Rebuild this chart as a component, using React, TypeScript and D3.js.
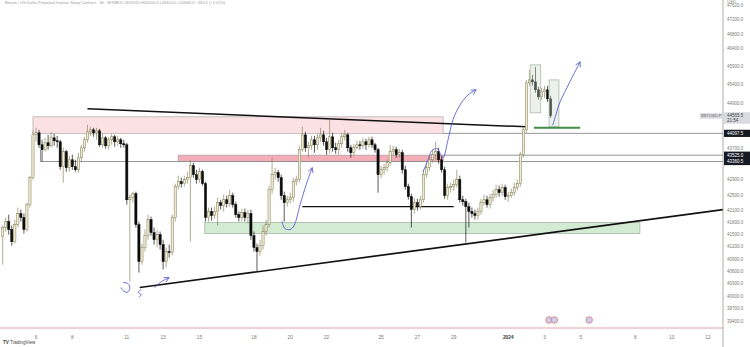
import React from 'react';
import * as d3 from 'd3';

const W = 750;
const H = 347;
const AXIS_X = 723;
const BOTTOM = 328;

// ---- data: 4h candles starting 2023-12-04 04:00 UTC ----
const firstOpen = 41453;
const closes = [
  41680, 41829, 41630, 41328, 41754, 42030, 41929, 41630, 42255, 42942,
  44059, 44112, 43797, 43667, 43850, 43771, 43980, 43902, 43876, 43225,
  43615, 43199, 43406, 43225, 43147, 43458, 43719, 43928, 44138, 44191,
  44112, 44165, 43797, 43980, 43771, 43928, 44007, 43876, 43928, 43824,
  43797, 42379, 42430, 42533, 41754, 40838, 41183, 41478, 41878, 41554,
  41377, 41504, 41256, 40838, 41084, 41060, 41929, 42713, 42840, 42789,
  42891, 42942, 43251, 43019, 42891, 43096, 42789, 41929, 42080, 41979,
  42080, 42305, 42230, 42379, 42280, 42482, 42255, 42004, 41929, 42055,
  41929, 42030, 41478, 41183, 41084, 41231, 41580, 41754, 42636, 43019,
  43070, 42942, 42482, 42305, 42379, 42430, 42840, 42891, 43667, 44059,
  43719, 43771, 43928, 43797, 43980, 44059, 43876, 43667, 44007, 43719,
  43667, 43824, 44007, 44059, 43719, 43589, 43719, 43797, 43771, 43876,
  43797, 43928, 43797, 43667, 43019, 43147, 43199, 43328, 43615, 43667,
  43537, 43589, 43147, 42713, 42456, 42131, 42305, 42205, 42379, 43019,
  43199, 43406, 43537, 43615, 43406, 43147, 42482, 42687, 42713, 42764,
  42891, 42379, 42329, 42205, 42080, 42030, 41979, 42080, 42305, 42379,
  42255, 42430, 42508, 42636, 42559, 42687, 42456, 42482, 42559, 42687,
  42789, 43537, 44191, 45451, 45532, 45478, 45262, 45073, 45208, 45262,
  45019, 44565.5,
];
const highs = [
  41729, 41929, 42004, 41729, 41878, 42181, 42131, 42030, 42305, 42994,
  44165, 44244, 44191, 43928, 43980, 44059, 44138, 44086, 44033, 43928,
  43719, 43667, 43510, 43537, 43406, 43589, 43797, 44007, 44324, 44270,
  44244, 44244, 44217, 44086, 44033, 44007, 44086, 44059, 44033, 43980,
  43928, 43850, 42508, 42585, 42585, 41829, 41280, 41630, 42004, 41954,
  41680, 41630, 41580, 41377, 41183, 41256, 42004, 42789, 42994, 42942,
  42994, 43096, 43406, 43328, 43147, 43199, 43147, 42840, 42181, 42181,
  42205, 42430, 42379, 42508, 42482, 42636, 42559, 42329, 42080, 42156,
  42156, 42131, 42131, 41580, 41280, 41377, 41729, 41878, 42738, 43458,
  43199, 43147, 43019, 42585, 42482, 42559, 42942, 42994, 43771, 44270,
  44138, 43876, 44033, 44033, 44086, 44244, 44165, 43980, 44457, 44112,
  43850, 43928, 44112, 44191, 44112, 43797, 43824, 43902, 43902, 43980,
  43954, 44007, 44007, 43850, 43719, 43251, 43302, 43406, 43797, 43771,
  43745, 43693, 43667, 43251, 42789, 42533, 42430, 42405, 42482, 43147,
  43328, 43510, 43667, 43876, 43719, 43510, 43225, 42789, 42815, 42891,
  43147, 42994, 42482, 42405, 42305, 42181, 42131, 42181, 42405, 42508,
  42482, 42533, 42636, 42764, 42738, 42789, 42764, 42585, 42662, 42815,
  42891, 43615, 44270, 45532, 45806, 45669, 45888, 45343, 45316, 45370,
  45370, 45100,
];
const lows = [
  40765, 41580, 41504, 41231, 41280, 41680, 41829, 41529, 41580, 42181,
  42891, 43876, 43719, 43354, 43615, 43667, 43719, 43771, 43719, 43147,
  42815, 43096, 43096, 43147, 43096, 43070, 43354, 43615, 43850, 44033,
  44007, 43928, 43745, 43719, 43693, 43667, 43797, 43745, 43771, 43719,
  43719, 42255, 40353, 42305, 41680, 40571, 40765, 41084, 41377, 41478,
  41256, 41183, 41134, 40644, 40693, 40936, 40985, 41829, 42636, 42687,
  42713, 42789, 41328, 42942, 42789, 42815, 42738, 41829, 41829, 41853,
  41903, 41729, 42131, 42080, 42181, 42205, 42181, 41929, 41829, 41829,
  41829, 41779, 41377, 41084, 40595, 40985, 41134, 41478, 41680, 42533,
  42891, 42840, 42379, 41829, 42205, 42280, 42329, 42738, 42815, 43615,
  43615, 43458, 43667, 43589, 43667, 43876, 43771, 43537, 43563, 43615,
  43563, 43537, 43719, 43902, 43615, 43458, 43510, 43667, 43667, 43693,
  43667, 43719, 43719, 43589, 42559, 42942, 43019, 43096, 43251, 43510,
  43458, 43458, 43045, 42636, 42379, 41680, 42030, 42106, 42131, 42305,
  42942, 43121, 43328, 43406, 43302, 43070, 42405, 42379, 42559, 42610,
  42687, 42305, 42230, 41304, 41680, 41929, 41878, 41878, 42004, 42230,
  42181, 42156, 42329, 42430, 42456, 42482, 42379, 42329, 42430, 42482,
  42610, 42713, 43458, 44112, 45370, 45370, 45181, 44992, 44992, 45046,
  44938, 44510,
];

const priceTicks = [
  47620, 47200, 46800, 46400, 45900, 45400, 44900, 43700, 42900, 42500,
  42100, 41800, 41500, 41200, 40900, 40600, 40300, 40000, 39700, 39400,
];
const dateTicks = [
  Date.UTC(2023, 11, 6), Date.UTC(2023, 11, 8), Date.UTC(2023, 11, 11), Date.UTC(2023, 11, 13),
  Date.UTC(2023, 11, 15), Date.UTC(2023, 11, 18), Date.UTC(2023, 11, 20), Date.UTC(2023, 11, 22),
  Date.UTC(2023, 11, 25), Date.UTC(2023, 11, 27), Date.UTC(2023, 11, 29), Date.UTC(2024, 0, 1),
  Date.UTC(2024, 0, 3), Date.UTC(2024, 0, 5), Date.UTC(2024, 0, 8), Date.UTC(2024, 0, 10),
  Date.UTC(2024, 0, 12),
];
const dateLabels = ['6', '8', '11', '13', '15', '18', '20', '22', '25', '27', '29', '2024', '3', '5', '8', '10', '12'];

const lastPrice = 44565.5;
const lastTime = '21:54';
const symbol = 'XBTUSD.P';
const levelLabels = [44097.5, 43525.0, 43360.5];

const u = (y: number, m: number, d: number, h = 0, mi = 0) => Date.UTC(y, m, d, h, mi);

// drawings (time, price)
const upperTrend = [{ t: u(2023, 11, 8, 20), p: 44750 }, { t: u(2024, 0, 2, 1), p: 44270 }];
const lowerTrend = [{ t: u(2023, 11, 11, 17), p: 40210 }, { t: u(2024, 0, 12, 20), p: 42131 }];
const pinkZone1 = { t0: u(2023, 11, 5, 20), t1: u(2023, 11, 28, 10), p0: 44097.5, p1: 44537 };
const pinkZone2 = { t0: u(2023, 11, 13, 20), t1: u(2023, 11, 28, 10), p0: 43360.5, p1: 43525 };
const greenZone = { t0: u(2023, 11, 15, 7), t1: u(2024, 0, 8, 6), p0: 41529, p1: 41804 };
const levelLines = [
  { t0: u(2023, 11, 28, 10), p: 44097.5 },
  { t0: u(2023, 11, 28, 10), p: 43525 },
  { t0: u(2023, 11, 6, 6), p: 43360.5 },
];
const leftTick = { t: u(2023, 11, 6, 6), p0: 43360.5, p1: 43667 };
const blackLevel = { t0: u(2023, 11, 20, 16), t1: u(2023, 11, 29, 0), p: 42205 };
const grayBoxes = [
  { t0: u(2024, 0, 2, 5), t1: u(2024, 0, 2, 19), p0: 44644, p1: 45943 },
  { t0: u(2024, 0, 3, 6), t1: u(2024, 0, 3, 19), p0: 44270, p1: 45532 },
];
const greenLine = { t0: u(2024, 0, 2, 10), t1: u(2024, 0, 4, 23), p: 44244 };

const arrow1 = [
  { t: u(2024, 0, 3, 11), p: 44324 }, { t: u(2024, 0, 3, 15), p: 44590 },
  { t: u(2024, 0, 3, 20), p: 44911 }, { t: u(2024, 0, 4, 9, 30), p: 45478 },
  { t: u(2024, 0, 4, 23), p: 46025 },
];
const arrow2 = [
  { t: u(2023, 11, 27, 7, 30), p: 43096 }, { t: u(2023, 11, 27, 14), p: 43406 },
  { t: u(2023, 11, 27, 19), p: 43641 }, { t: u(2023, 11, 28, 2), p: 43693 },
  { t: u(2023, 11, 28, 7), p: 43537 }, { t: u(2023, 11, 28, 10), p: 43458 },
  { t: u(2023, 11, 28, 16, 30), p: 43928 }, { t: u(2023, 11, 28, 23), p: 44457 },
  { t: u(2023, 11, 29, 8, 30), p: 44858 }, { t: u(2023, 11, 29, 19), p: 45127 },
  { t: u(2023, 11, 30, 5, 30), p: 45262 },
];
const arrow3 = [
  { t: u(2023, 11, 19, 13), p: 41829 }, { t: u(2023, 11, 19, 17), p: 41655 },
  { t: u(2023, 11, 19, 23, 45), p: 41630 }, { t: u(2023, 11, 20, 5), p: 41729 },
  { t: u(2023, 11, 20, 13), p: 42255 }, { t: u(2023, 11, 20, 21), p: 42764 },
  { t: u(2023, 11, 21, 5), p: 43199 },
];
const squiggleA = [
  { t: u(2023, 11, 10, 19), p: 40330 }, { t: u(2023, 11, 11, 1, 30), p: 40306 },
  { t: u(2023, 11, 11, 4), p: 40187 }, { t: u(2023, 11, 11, 0, 15), p: 40092 },
  { t: u(2023, 11, 10, 19), p: 40139 }, { t: u(2023, 11, 10, 16, 20), p: 40210 },
];
const squiggleB = [
  { t: u(2023, 11, 11, 18, 45), p: 40163 }, { t: u(2023, 11, 11, 15), p: 40092 },
  { t: u(2023, 11, 11, 18, 45), p: 40045 }, { t: u(2023, 11, 11, 16), p: 39975 },
];
const arrowC = [
  { t: u(2023, 11, 12, 13), p: 40210 }, { t: u(2023, 11, 12, 20), p: 40330 },
  { t: u(2023, 11, 13, 7, 40), p: 40449 },
];
const eventTimes = [u(2024, 0, 3, 6), u(2024, 0, 3, 13), u(2024, 0, 5, 11)];

const x = d3.scaleUtc().domain([Date.UTC(2023, 11, 6), Date.UTC(2024, 0, 12)]).range([36, 708]);
const y = d3.scaleLog().domain([39400, 47620]).range([321.5, 5]);

const HOUR = 3600e3;
const T0 = Date.UTC(2023, 11, 4, 4);
const candles = closes.map((c, k) => {
  const o = k === 0 ? firstOpen : closes[k - 1];
  return { t: T0 + k * 4 * HOUR, o, c, h: Math.max(highs[k], o, c), l: Math.min(lows[k], o, c) };
});

const BLUE = '#5d5fd0';
const FONT = '"Liberation Sans", Arial, sans-serif';

type P = { t: number; p: number };
const freeLine = d3.line<P>().x((d) => x(d.t)).y((d) => y(d.p)).curve(d3.curveCatmullRom.alpha(0.5));

function Arrow({ pts }: { pts: P[] }) {
  const n = pts.length;
  const ex = x(pts[n - 1].t), ey = y(pts[n - 1].p);
  const px = x(pts[n - 2].t), py = y(pts[n - 2].p);
  const a = Math.atan2(ey - py, ex - px);
  const L = 5;
  const h1 = [ex - L * Math.cos(a - 0.5), ey - L * Math.sin(a - 0.5)];
  const h2 = [ex - L * Math.cos(a + 0.5), ey - L * Math.sin(a + 0.5)];
  return (
    <g fill="none" stroke={BLUE} strokeWidth={0.9} strokeLinecap="round">
      <path d={freeLine(pts) || ''} />
      <path d={`M${h1[0]},${h1[1]}L${ex},${ey}L${h2[0]},${h2[1]}`} />
    </g>
  );
}

function Zone({ z, fill, stroke }: { z: { t0: number; t1: number; p0: number; p1: number }; fill: string; stroke: string }) {
  const x0 = x(z.t0), x1 = x(z.t1);
  const y0 = y(z.p1), y1 = y(z.p0);
  return <rect x={x0} y={y0} width={x1 - x0} height={y1 - y0} fill={fill} stroke={stroke} strokeWidth={0.8} />;
}

export default function App() {
  React.useEffect(() => {
    document.body.style.margin = '0';
  }, []);
  const bw = 2.2;
  return (
    <svg width={W} height={H} style={{ position: 'absolute', left: 0, top: 0, background: '#fff' }} fontFamily={FONT}>
      <defs>
        <clipPath id="plot">
          <rect x={0} y={0} width={AXIS_X} height={BOTTOM} />
        </clipPath>
      </defs>
      <rect width={W} height={H} fill="#fff" />
      <text x={5} y={4} fontSize={4.4} fill="#9a9a9a" textLength={220} lengthAdjust="spacingAndGlyphs">
        Bitcoin / US Dollar Perpetual Inverse Swap Contract · 4h · BITMEX  O45019.0 H45100.0 L44510.0 C44565.5 −453.5 (−1.01%)
      </text>

      <g clipPath="url(#plot)">
        {/* zones */}
        <Zone z={pinkZone1} fill="#fbe1e4" stroke="#b9b0b2" />
        <Zone z={pinkZone2} fill="#f3aeb8" stroke="#b0a0a4" />
        <Zone z={greenZone} fill="#d3ebd3" stroke="#a9b8a9" />
        {/* level lines */}
        {levelLines.map((l, i) => (
          <line key={i} x1={x(l.t0)} x2={AXIS_X} y1={y(l.p)} y2={y(l.p)} stroke="#8a8a8a" strokeWidth={0.9} />
        ))}
        <line x1={x(leftTick.t)} x2={x(leftTick.t)} y1={y(leftTick.p0)} y2={y(leftTick.p1)} stroke="#8a8a8a" strokeWidth={0.9} />
        {/* trend lines */}
        <line x1={x(upperTrend[0].t)} y1={y(upperTrend[0].p)} x2={x(upperTrend[1].t)} y2={y(upperTrend[1].p)} stroke="#111" strokeWidth={1.5} />
        <line x1={x(lowerTrend[0].t)} y1={y(lowerTrend[0].p)} x2={x(lowerTrend[1].t)} y2={y(lowerTrend[1].p)} stroke="#111" strokeWidth={1.7} />
        <line x1={x(blackLevel.t0)} x2={x(blackLevel.t1)} y1={y(blackLevel.p)} y2={y(blackLevel.p)} stroke="#111" strokeWidth={1.3} />

        {/* candles */}
        {candles.map((d, i) => {
          const cx = x(d.t);
          const up = d.c >= d.o;
          const top = y(Math.max(d.o, d.c));
          const bot = y(Math.min(d.o, d.c));
          return (
            <g key={i}>
              <line x1={cx} x2={cx} y1={y(d.h)} y2={y(d.l)} stroke={up ? '#8c875e' : '#111'} strokeWidth={0.7} />
              <rect
                x={cx - bw / 2}
                y={top}
                width={bw}
                height={Math.max(bot - top, 0.8)}
                fill={up ? '#efecd6' : '#0c0c0c'}
                stroke={up ? '#7f7a52' : '#0c0c0c'}
                strokeWidth={0.5}
              />
            </g>
          );
        })}

        {/* boxes at the end */}
        {grayBoxes.map((b, i) => (
          <Zone key={i} z={b} fill="rgba(200,215,200,0.35)" stroke="#a8bba8" />
        ))}
        <line x1={x(greenLine.t0)} x2={x(greenLine.t1)} y1={y(greenLine.p)} y2={y(greenLine.p)} stroke="#3f8f47" strokeWidth={2} />

        {/* freehand arrows */}
        <Arrow pts={arrow1} />
        <Arrow pts={arrow2} />
        <Arrow pts={arrow3} />
        <Arrow pts={arrowC} />
        <path d={freeLine(squiggleA) || ''} fill="none" stroke={BLUE} strokeWidth={0.9} />
        <path d={freeLine(squiggleB) || ''} fill="none" stroke={BLUE} strokeWidth={0.9} />

        {/* events */}
        {eventTimes.map((t, i) => (
          <circle key={i} cx={x(t)} cy={320} r={3.3} fill="#c9cdea" stroke="#e07a7a" strokeWidth={0.8} />
        ))}
      </g>

      {/* bottom axis */}
      <line x1={0} x2={AXIS_X} y1={BOTTOM} y2={BOTTOM} stroke="#e08a8a" strokeWidth={0.8} />
      {dateTicks.map((t, i) => (
        <text
          key={i}
          x={x(t)}
          y={338.5}
          fontSize={4.8}
          textAnchor="middle"
          fill={dateLabels[i] === '2024' ? '#333' : '#777'}
          fontWeight={dateLabels[i] === '2024' ? 'bold' : 'normal'}
        >
          {dateLabels[i]}
        </text>
      ))}

      {/* right axis */}
      <line x1={AXIS_X} x2={AXIS_X} y1={0} y2={H} stroke="#9a9a9a" strokeWidth={0.8} />
      <text x={727} y={2.5} fontSize={4.4} fill="#888">USD</text>
      {priceTicks.map((p, i) => (
        <text key={i} x={727} y={y(p) + 1.6} fontSize={4.5} fill="#7a7a7a">
          {p.toFixed(1)}
        </text>
      ))}
      {/* last price */}
      <rect x={700} y={y(lastPrice) - 2.5} width={22} height={5.5} fill="#d9dbe0" />
      <text x={711} y={y(lastPrice) + 1.4} fontSize={4.2} fill="#666" textAnchor="middle">{symbol}</text>
      <rect x={724} y={y(lastPrice) - 3.5} width={26} height={11.5} fill="#d9dbe0" />
      <text x={727} y={y(lastPrice) + 1.2} fontSize={4.5} fill="#444">{lastPrice.toFixed(1)}</text>
      <text x={727} y={y(lastPrice) + 6.3} fontSize={4.5} fill="#444">{lastTime}</text>
      {levelLabels.map((p, i) => (
        <g key={i}>
          <rect x={724} y={y(p) - 3.6} width={26} height={7.2} fill="#161a25" />
          <text x={727} y={y(p) + 1.6} fontSize={4.5} fill="#fff">{p.toFixed(1)}</text>
        </g>
      ))}

      {/* TradingView logo */}
      <text x={3} y={344} fontSize={4.6} fill="#444">
        <tspan fontWeight="bold">TV</tspan> TradingView
      </text>
    </svg>
  );
}
